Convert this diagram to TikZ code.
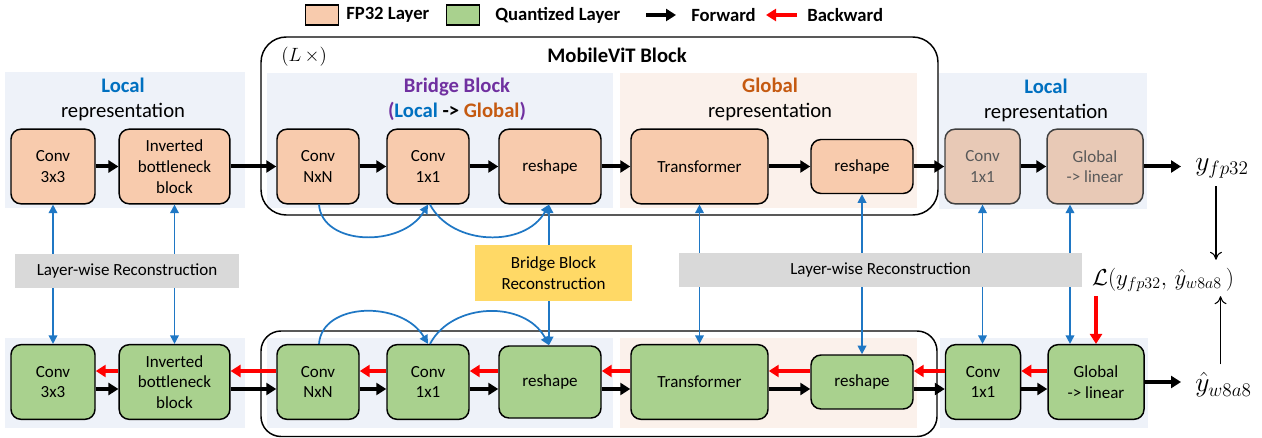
\documentclass[tikz,border=0pt]{standalone}
\usepackage{fontspec}
\setmainfont{Carlito}
\usetikzlibrary{arrows.meta,calc}
\definecolor{fporange}{HTML}{F8CBAD}
\definecolor{qgreen}{HTML}{A9D18E}
\definecolor{panelblue}{HTML}{EEF2F9}
\definecolor{panelorange}{HTML}{FBF1EB}
\definecolor{locblue}{HTML}{0070C0}
\definecolor{bbpurple}{HTML}{7030A0}
\definecolor{globorange}{HTML}{C55A11}
\definecolor{arrblue}{HTML}{1F77C4}
\definecolor{recgray}{HTML}{D9D9D9}
\definecolor{bbyellow}{HTML}{FFD966}
\definecolor{dimfill}{HTML}{E8C9B6}
\begin{document}
\begin{tikzpicture}[x=0.75pt,y=-0.75pt,
  layer/.style={draw=black, line width=1.1pt, rounded corners=7.5pt, align=center,
    font=\fontsize{12.75}{15.5}\selectfont, inner sep=0pt, minimum height=56pt},
  fp/.style={layer, fill=fporange},
  qt/.style={layer, fill=qgreen},
  dimbox/.style={layer, fill=dimfill, draw=black!75, text=black!65},
  fwd/.style={line width=3pt, -{Triangle[length=7.5pt,width=9pt]}},
  bwd/.style={red, line width=3pt, -{Triangle[length=7.5pt,width=9pt]}},
  rec/.style={arrblue, line width=1.3pt, {Triangle[length=6.5pt,width=6.5pt]}-{Triangle[length=6.5pt,width=6.5pt]}},
  arc/.style={arrblue, line width=1.3pt, -{Triangle[length=6.5pt,width=6.5pt]}},
  thinarr/.style={line width=0.8pt, -{To[length=6pt,width=9pt]}},
  panel title/.style={align=center, font=\fontsize{15.5}{18.75}\selectfont},
  recbox/.style={fill=recgray, font=\fontsize{12.75}{15.5}\selectfont, inner sep=0pt, align=center},
  legtext/.style={anchor=west, font=\fontsize{14}{16}\selectfont\bfseries, inner sep=0pt},
  swatch/.style={draw=black, line width=1pt, minimum width=25pt, minimum height=15pt, inner sep=0pt},
  mathlbl/.style={font=\fontsize{21}{24}\selectfont, inner sep=0pt}
]
\useasboundingbox (0,0) rectangle (1262,438);

% ---------- background panels ----------
\fill[panelblue]   (5,72) rectangle (245,208);
\fill[panelblue]   (267,73) rectangle (613,208);
\fill[panelorange] (620,73) rectangle (917,208);
\fill[panelblue]   (939,73) rectangle (1147,209);
\fill[panelblue]   (5,338) rectangle (245,428);
\fill[panelblue]   (267,338) rectangle (613,428);
\fill[panelorange] (620,338) rectangle (917,428);
\fill[panelblue]   (940,338) rectangle (1148,428);

% ---------- MobileViT outlines ----------
\draw[line width=1.1pt, rounded corners=19pt] (261,37) rectangle (938,215);
\draw[line width=1.1pt, rounded corners=15pt] (261,331) rectangle (937,436.5);

% ---------- legend ----------
\node[swatch, fill=fporange] (sfp) at (322,15) {};
\node[legtext] (tfp) at (346,15) {FP32 Layer};
\node[swatch, fill=qgreen] (sq) at (463,15) {};
\node[legtext] (tq) at (495,15) {Quantized Layer};
\coordinate (fa1) at (646,15);
\coordinate (fa2) at (676,15);
\draw[fwd] (fa1) -- (fa2);
\node[legtext] (tf) at (691,15) {Forward};
\coordinate (ba1) at (797,15);
\coordinate (ba2) at (766,15);
\draw[bwd] (ba1) -- (ba2);
\node[legtext] (tb) at (807,15) {Backward};

% ---------- titles ----------
\node[anchor=west, font=\fontsize{14.5}{17}\selectfont, inner sep=0pt] (lx) at (281,57) {$(L\,\times)$};
\node[font=\fontsize{15.5}{18}\selectfont\bfseries, inner sep=0pt] (mvt) at (617,55) {MobileViT Block};
\node[panel title] (tl1) at (123,99.5) {\textcolor{locblue}{\textbf{Local}}\\representation};
\node[panel title] (tbb) at (457,99.5) {\textcolor{bbpurple}{\textbf{Bridge Block}}\\\textbf{\textcolor{bbpurple}{(}\textcolor{locblue}{Local} -> \textcolor{globorange}{Global}\textcolor{bbpurple}{)}}};
\node[panel title] (tgl) at (770,99.5) {\textcolor{globorange}{\textbf{Global}}\\representation};
\node[panel title] (tl2) at (1046,100) {\textcolor{locblue}{\textbf{Local}}\\representation};

% ---------- top row (FP32) ----------
\node[fp, minimum width=63pt] (c33) at (53,166.5) {Conv\\3x3};
\node[fp, minimum width=83pt] (ibb) at (174.5,166.5) {Inverted\\bottleneck\\block};
\node[fp, minimum width=61.5pt] (nxn) at (318,166.5) {Conv\\NxN};
\node[fp, minimum width=61.5pt] (c11) at (428,166.5) {Conv\\1x1};
\node[fp, minimum width=76.5pt] (rs1) at (550,166.5) {reshape};
\node[fp, minimum width=102.75pt] (tr) at (699.5,166.5) {Transformer};
\node[fp, minimum width=76.5pt, minimum height=40.5pt] (rs2) at (862,166.5) {reshape};
\node[dimbox, minimum width=56.25pt] (rc11) at (982.5,166.5) {Conv\\1x1};
\node[dimbox, minimum width=72pt] (gl) at (1095,166.5) {Global\\-> linear};
\node[mathlbl, anchor=west] (yfp) at (1195,168) {$y_{fp32}$};

% ---------- bottom row (quantized) ----------
\node[qt, minimum width=63pt] (c33b) at (53,382) {Conv\\3x3};
\node[qt, minimum width=83pt] (ibbb) at (174.5,382) {Inverted\\bottleneck\\block};
\node[qt, minimum width=61.5pt] (nxnb) at (318,382) {Conv\\NxN};
\node[qt, minimum width=61.5pt] (c11b) at (428,382) {Conv\\1x1};
\node[qt, minimum width=76.5pt, minimum height=54pt] (rs1b) at (550,382) {reshape};
\node[qt, minimum width=102.75pt] (trb) at (699.5,382) {Transformer};
\node[qt, minimum width=76.5pt, minimum height=40.5pt] (rs2b) at (862,382) {reshape};
\node[qt, minimum width=56.25pt] (rc11b) at (983,382) {Conv\\1x1};
\node[qt, minimum width=72pt] (glb) at (1096,382) {Global\\-> linear};
\node[mathlbl, anchor=west] (yq) at (1195,385) {$\hat{y}_{w8a8}$};
\node[font=\fontsize{18}{22}\selectfont, inner sep=0pt] (loss) at (1163,280) {$\mathcal{L}\big(y_{fp32},\,\hat{y}_{w8a8}\,\big)$};

% ---------- forward arrows top ----------
\draw[fwd] (c33) -- (ibb);
\draw[fwd] (ibb) -- (nxn);
\draw[fwd] (nxn) -- (c11);
\draw[fwd] (c11) -- (rs1);
\draw[fwd] (rs1) -- (tr);
\draw[fwd] (tr) -- (rs2);
\draw[fwd] (rs2) -- (rc11);
\draw[fwd] (rc11) -- (gl);
\coordinate (yfpin) at ($(yfp.west)+(-14,0)$);
\draw[fwd] (gl.east) -- (gl.east -| yfpin);

% ---------- forward arrows bottom ----------
\foreach \a/\b in {c33b/ibbb, ibbb/nxnb, nxnb/c11b, c11b/rs1b, rs1b/trb, trb/rs2b, rs2b/rc11b, rc11b/glb}{
  \draw[fwd] ($(\a.east)+(0,7)$) -- ($(\b.west)+(0,7)$);
}
\coordinate (yqin) at ($(yq.west)+(-14,0)$);
\draw[fwd] (glb.east) -- (glb.east -| yqin);

% ---------- backward arrows bottom ----------
\foreach \a/\b in {ibbb/c33b, nxnb/ibbb, c11b/nxnb, rs1b/c11b, trb/rs1b, rs2b/trb, rc11b/rs2b, glb/rc11b}{
  \draw[bwd] ($(\a.west)+(0,-11)$) -- ($(\b.east)+(0,-11)$);
}
\coordinate (lossout) at ($(loss.south)+(0,4)$);
\draw[bwd] (lossout -| glb.north) -- (glb.north);

% ---------- loss arrows ----------
\coordinate (ya) at ($(yfp.south)+(-6,8)$);
\coordinate (yb) at ($(yq.north)+(-3,-8)$);
\coordinate (lossin) at ($(loss.north)+(0,-8)$);
\draw[thinarr] (ya) -- (ya |- lossin);
\draw[thinarr] (yb) -- (yb |- lossout);

% ---------- reconstruction arrows ----------
\draw[rec] (c33.south) -- (c33b.north);
\draw[rec] (ibb.south) -- (ibbb.north);
\draw[rec] (tr.south) -- (trb.north);
\draw[rec] (rs2.south) -- (rs2b.north);
\draw[rec] (rc11.south) -- (rc11b.north -| rc11.south);
\draw[rec] ($(gl.south)+(-25,0)$) -- ($(glb.north)+(-26,0)$);
\draw[rec] ($(rs1.south)+(-1,0)$) -- ($(rs1b.north)+(-1,0)$);

% bridge arcs
\draw[arc] ($(nxn.south)+(1,0)$) .. controls (322,246) and (402,248) .. (c11.south);
\draw[arc] ($(c11.south)+(2,0)$) .. controls (452,246) and (525,248) .. ($(rs1.south)+(-1,0)$);
\draw[arc] ($(nxnb.north)+(1,0)$) .. controls (322,302) and (402,300) .. (c11b.north);
\draw[arc] ($(c11b.north)+(2,0)$) .. controls (452,302) and (525,300) .. ($(rs1b.north)+(-1,0)$);

% ---------- reconstruction boxes ----------
\node[recbox, minimum width=168pt, minimum height=25.5pt] (lw1) at (127,271) {Layer-wise Reconstruction};
\node[recbox, minimum width=302pt, minimum height=25.5pt] (lw2) at (880.5,270) {Layer-wise Reconstruction};
\node[recbox, fill=bbyellow, minimum width=117.75pt, minimum height=42pt] (bbr) at (553.5,273) {Bridge Block\\Reconstruction};

\end{tikzpicture}
\end{document}
